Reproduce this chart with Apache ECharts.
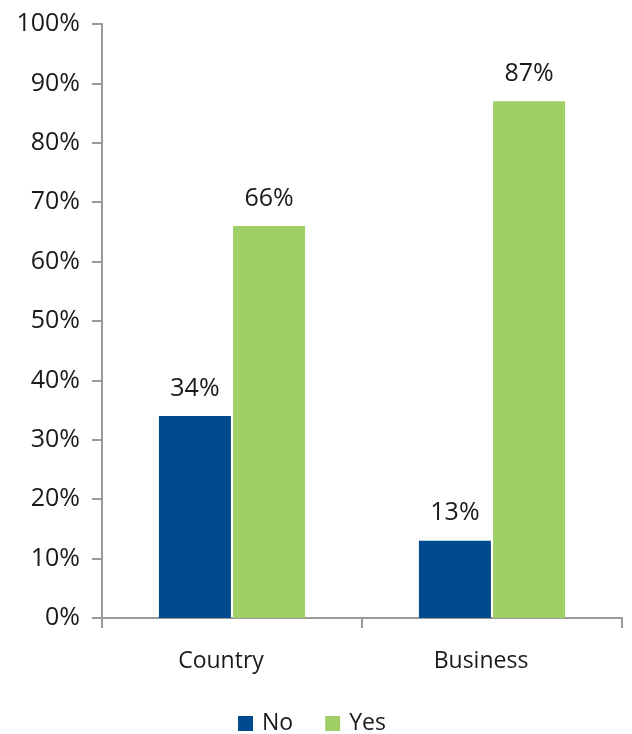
<!DOCTYPE html>
<html>
<head>
<meta charset="utf-8">
<script src="https://cdn.jsdelivr.net/npm/echarts@6/dist/echarts.min.js"></script>
<style>
  html, body { margin: 0; padding: 0; background: #fff; }
  #chart { width: 632px; height: 734px; }
</style>
</head>
<body>
<div id="chart"></div>
<script>
// Survey answers by question, in percent
const categories = ['Country', 'Business'];
const noValues = [34, 13];
const yesValues = [66, 87];

const chart = echarts.init(document.getElementById('chart'));
const font = '"Open Sans", "Noto Sans", sans-serif';
const textColor = '#1a1a1a';
const axisColor = '#9a9a9a';

const valueLabel = {
  show: true,
  position: 'top',
  distance: 15,
  formatter: '{c}%',
  fontFamily: font,
  fontSize: 25,
  color: textColor
};

chart.setOption({
  animation: false,
  grid: { left: 102, right: 10, top: 24, bottom: 116 },
  legend: {
    top: 707,
    left: 233,
    itemWidth: 15,
    itemHeight: 15,
    itemGap: 32,
    icon: 'rect',
    textStyle: { fontFamily: font, fontSize: 23, color: textColor, padding: [0, 0, 0, 4] },
    data: ['No', 'Yes']
  },
  xAxis: {
    type: 'category',
    data: categories,
    axisLine: { lineStyle: { color: axisColor, width: 2 } },
    axisTick: { show: true, length: 10, lineStyle: { color: axisColor, width: 2 } },
    axisLabel: { fontFamily: font, fontSize: 23, color: textColor, margin: 32, padding: [0, 22, 0, 0] }
  },
  yAxis: {
    type: 'value',
    min: 0,
    max: 100,
    interval: 10,
    splitLine: { show: false },
    axisLine: { show: true, lineStyle: { color: axisColor, width: 2 } },
    axisTick: { show: true, length: 10, lineStyle: { color: axisColor, width: 2 } },
    axisLabel: { fontFamily: font, fontSize: 25, color: textColor, margin: 22, formatter: '{value}%' }
  },
  series: [
    {
      name: 'No',
      type: 'bar',
      data: noValues,
      barWidth: 72,
      barGap: '3%',
      itemStyle: { color: '#004B8D' },
      label: valueLabel
    },
    {
      name: 'Yes',
      type: 'bar',
      data: yesValues,
      barWidth: 72,
      barGap: '3%',
      itemStyle: { color: '#A0CF67' },
      label: valueLabel
    }
  ]
});
</script>
</body>
</html>
